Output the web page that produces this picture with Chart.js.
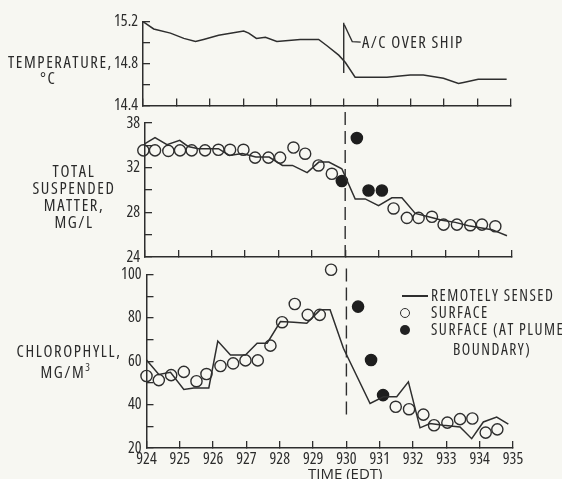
<!DOCTYPE html>
<html>
<head>
<meta charset="utf-8">
<script src="https://cdn.jsdelivr.net/npm/chart.js@4.4.1/dist/chart.umd.min.js"></script>
<style>
  body { margin: 0; background: #f7f7f2; }
  #wrap {
    position: relative; width: 562px; height: 479px; overflow: hidden;
    font-family: "Open Sans", sans-serif; font-stretch: condensed;
    font-size: 16.5px; color: #2b2b2b;
  }
  canvas { position: absolute; left: 0; top: 0; letter-spacing: 0; }
  .lbl { position: absolute; white-space: nowrap; line-height: 1; transform: translateY(-50%); letter-spacing: 1.6px; }
  .ctr { transform: translate(-50%, -50%); text-align: center; }
  .sym { position: absolute; box-sizing: border-box; }
  .leg { font-size: 15.5px; letter-spacing: 1.5px; }
</style>
</head>
<body>
<div id="wrap">
  <canvas id="tempChart" width="562" height="479"></canvas>
  <canvas id="tsmChart" width="562" height="479"></canvas>
  <canvas id="chlChart" width="562" height="479"></canvas>

  <div class="lbl" style="left:8px;top:62px">TEMPERATURE,</div>
  <div class="lbl" style="left:40px;top:78px">°C</div>

  <div class="lbl ctr" style="left:74px;top:171px">TOTAL</div>
  <div class="lbl ctr" style="left:74px;top:188px">SUSPENDED</div>
  <div class="lbl ctr" style="left:74px;top:205px">MATTER,</div>
  <div class="lbl ctr" style="left:74px;top:222px">MG/L</div>

  <div class="lbl ctr" style="left:69px;top:351px">CHLOROPHYLL,</div>
  <div class="lbl ctr" style="left:66px;top:371px">MG/M<sup style="font-size:11px;vertical-align:7px">3</sup></div>

  <div class="lbl" style="left:362px;top:42px;letter-spacing:1.4px">A/C OVER SHIP</div>
  <div class="lbl" style="left:308px;top:473px;font-size:15px;font-stretch:90%;letter-spacing:0">TIME (EDT)</div>

  <div class="sym" style="left:402px;top:295px;width:26px;height:1.5px;background:#2e2e2e"></div>
  <div class="sym" style="left:400px;top:308px;width:10px;height:10px;border:1.4px solid #2e2e2e;border-radius:50%"></div>
  <div class="sym" style="left:400px;top:325px;width:10px;height:10px;background:#222;border-radius:50%"></div>
  <div class="lbl leg" style="left:431px;top:296px">REMOTELY SENSED</div>
  <div class="lbl leg" style="left:431px;top:313px">SURFACE</div>
  <div class="lbl leg" style="left:431px;top:330px">SURFACE (AT PLUME</div>
  <div class="lbl leg" style="left:453px;top:350px">BOUNDARY)</div>
</div>

<script>
// time axis (EDT)
const timeMin = 924;
const timeMax = 935;

// temperature, deg C (remotely sensed only)
const tempTime = [924.0, 924.32, 924.82, 925.22, 925.57, 925.81, 926.26, 927.01, 927.16, 927.39, 927.66, 928.0, 928.7, 929.25, 929.5, 929.85, 930.05, 930.34, 930.59, 931.29, 931.99, 932.38, 932.98, 933.43, 933.58, 934.02, 934.32, 934.87];
const tempValue = [15.2, 15.13, 15.09, 15.04, 15.01, 15.03, 15.07, 15.11, 15.09, 15.04, 15.05, 15.01, 15.03, 15.03, 14.97, 14.88, 14.81, 14.67, 14.67, 14.67, 14.69, 14.69, 14.66, 14.61, 14.62, 14.65, 14.65, 14.65];

// total suspended matter, mg/l
const tsmLineTime = [924.0, 924.3, 924.66, 925.04, 925.29, 925.6, 926.2, 926.53, 926.92, 927.32, 927.72, 928.12, 928.42, 928.86, 929.21, 929.51, 929.9, 930.3, 930.6, 931.0, 931.4, 931.7, 932.1, 932.5, 932.9, 933.3, 933.7, 934.4, 934.85];
const tsmLineValue = [34.15, 34.7, 34.06, 34.45, 33.9, 33.7, 33.7, 33.1, 33.26, 32.95, 32.95, 32.2, 32.2, 31.56, 32.5, 32.5, 31.9, 29.2, 29.2, 28.6, 29.3, 29.3, 27.9, 27.6, 27.3, 27.1, 26.8, 26.45, 25.9];
const tsmSurfTime = [923.95, 924.3, 924.7, 925.05, 925.4, 925.8, 926.2, 926.55, 926.95, 927.3, 927.7, 928.05, 928.45, 928.8, 929.2, 929.6, 931.45, 931.85, 932.2, 932.6, 932.95, 933.35, 933.75, 934.1, 934.5];
const tsmSurfValue = [33.55, 33.55, 33.5, 33.55, 33.55, 33.55, 33.6, 33.6, 33.6, 32.9, 32.9, 32.9, 33.8, 33.25, 32.2, 31.45, 28.35, 27.5, 27.5, 27.6, 26.9, 26.9, 26.85, 26.9, 26.75];
const tsmPlumeTime = [929.9, 930.35, 930.7, 931.1];
const tsmPlumeValue = [30.8, 34.65, 29.95, 29.95];

// chlorophyll, mg/m3
const chlLineTime = [924.0, 924.37, 924.72, 925.12, 925.42, 925.87, 926.14, 926.52, 926.97, 927.32, 927.62, 928.02, 928.42, 928.81, 929.21, 929.51, 929.91, 930.71, 931.11, 931.51, 931.86, 932.21, 932.51, 932.91, 933.41, 933.76, 934.11, 934.51, 934.86];
const chlLineValue = [60.6, 53.9, 54.9, 47.0, 47.7, 47.7, 69.3, 62.9, 62.9, 68.3, 68.3, 78.3, 78.0, 77.5, 83.7, 83.7, 66.0, 40.5, 43.6, 43.6, 50.5, 29.3, 31.3, 30.5, 29.7, 24.3, 32.0, 34.3, 31.0];
const chlSurfTime = [924.0, 924.37, 924.74, 925.12, 925.5, 925.8, 926.22, 926.6, 926.97, 927.34, 927.72, 928.07, 928.45, 928.84, 929.2, 929.54, 931.48, 931.88, 932.31, 932.63, 933.03, 933.41, 933.78, 934.18, 934.53];
const chlSurfValue = [53.2, 51.3, 53.6, 55.1, 50.8, 54.1, 57.8, 59.0, 60.4, 60.4, 67.2, 78.0, 86.4, 81.4, 81.4, 102.2, 39.0, 37.9, 35.4, 30.5, 31.7, 33.3, 33.6, 27.1, 28.6];
const chlPlumeTime = [929.9, 930.35, 930.74, 931.1];
const chlPlumeValue = [106, 85.2, 60.6, 44.4];

// y tick labels (the scan labels the top of the TSM axis "38")
const tempLabels = { 15.2: '15.2', 14.8: '14.8', 14.4: '14.4' };
const tsmLabels = { 36: '38', 32: '32', 28: '28', 24: '24' };
const chlLabels = { 100: '100', 80: '80', 60: '60', 40: '40', 20: '20' };

const INK = '#2e2e2e';
const FONT = '"Open Sans", sans-serif';
const W = 562, H = 479;

function pts(xs, ys) {
    return xs.map((x, i) => ({ x: x, y: ys[i] }));
}

function lineSet(xs, ys) {
    return { data: pts(xs, ys), showLine: true, borderColor: INK, borderWidth: 1.5,
             pointRadius: 0, tension: 0, clip: false };
}

function dotSet(xs, ys, filled) {
    return { data: pts(xs, ys), showLine: false, pointRadius: 5.6, pointBorderWidth: 1.4,
             pointBorderColor: filled ? '#1e1e1e' : INK,
             pointBackgroundColor: filled ? '#1e1e1e' : 'rgba(0,0,0,0)', clip: false };
}

function labelFor(map) {
    return v => {
        const k = Object.keys(map).find(key => Math.abs(Number(key) - v) < 1e-6);
        return k === undefined ? '' : map[k];
    };
}

function panel(id, box, y, datasets, showX, draw) {
    const xh = showX ? 31 : 0;
    return new Chart(document.getElementById(id), {
        type: 'scatter',
        data: { datasets: datasets },
        options: {
            responsive: false,
            animation: false,
            events: [],
            layout: { padding: { left: 0, top: box.top, right: W - box.right, bottom: H - box.bottom - xh } },
            plugins: { legend: { display: false }, tooltip: { enabled: false } },
            scales: {
                x: {
                    type: 'linear', min: timeMin, max: timeMax,
                    ticks: { stepSize: 1, autoSkip: false, maxRotation: 0, display: showX, padding: 9,
                             color: '#2b2b2b', font: { family: FONT, size: 16, weight: 'condensed' },
                             callback: v => String(v) },
                    grid: { drawOnChartArea: false, tickLength: -7, color: INK, lineWidth: 1.3 },
                    border: { color: INK, width: 1.5 },
                    afterFit: s => { s.height = xh; }
                },
                y: {
                    type: 'linear', min: y.min, max: y.max,
                    ticks: { stepSize: y.step, autoSkip: false, padding: 12, color: '#2b2b2b',
                             font: { family: FONT, size: 16, weight: 'condensed' }, callback: labelFor(y.labels) },
                    grid: { drawOnChartArea: false, tickLength: -7, color: INK, lineWidth: 1.3 },
                    border: { color: INK, width: 1.5 },
                    afterFit: s => { s.width = box.left; }
                }
            }
        },
        plugins: [{ id: 'marks', beforeDatasetsDraw: c => draw(c) }]
    });
}

function vline(ctx, x, y1, y2, dash) {
    ctx.save();
    ctx.strokeStyle = INK;
    ctx.lineWidth = 1.4;
    ctx.setLineDash(dash);
    ctx.beginPath();
    ctx.moveTo(x, y1);
    ctx.lineTo(x, y2);
    ctx.stroke();
    ctx.restore();
}

// temperature panel: aircraft-over-ship marker and leader
panel('tempChart', { left: 143, right: 511, top: 21, bottom: 105.5 },
      { min: 14.4, max: 15.2, step: 0.2, labels: tempLabels },
      [lineSet(tempTime, tempValue)], false, c => {
    const ctx = c.ctx, x = c.scales.x.getPixelForValue(930);
    const top = c.scales.y.getPixelForValue(15.19);
    vline(ctx, x, top, c.scales.y.getPixelForValue(14.71), []);
    ctx.save();
    ctx.strokeStyle = INK;
    ctx.lineWidth = 1.3;
    ctx.beginPath();
    ctx.moveTo(x + 0.5, top + 2);
    ctx.lineTo(x + 8.5, top + 19);
    ctx.lineTo(x + 17, top + 19.5);
    ctx.stroke();
    ctx.restore();
});

panel('tsmChart', { left: 145, right: 512, top: 123, bottom: 257 },
      { min: 24, max: 36, step: 2, labels: tsmLabels },
      [lineSet(tsmLineTime, tsmLineValue), dotSet(tsmSurfTime, tsmSurfValue, false),
       dotSet(tsmPlumeTime, tsmPlumeValue, true)], false, c => {
    const x = c.scales.x.getPixelForValue(930);
    vline(c.ctx, x, c.chartArea.top - 11, c.chartArea.bottom, [13, 6]);
});

panel('chlChart', { left: 146.5, right: 513, top: 274.5, bottom: 448 },
      { min: 20, max: 100, step: 10, labels: chlLabels },
      [lineSet(chlLineTime, chlLineValue), dotSet(chlSurfTime, chlSurfValue, false),
       dotSet(chlPlumeTime, chlPlumeValue, true)], true, c => {
    const x = c.scales.x.getPixelForValue(930);
    vline(c.ctx, x, c.chartArea.top - 6, c.scales.y.getPixelForValue(33), [13, 6]);
});
</script>
</body>
</html>
